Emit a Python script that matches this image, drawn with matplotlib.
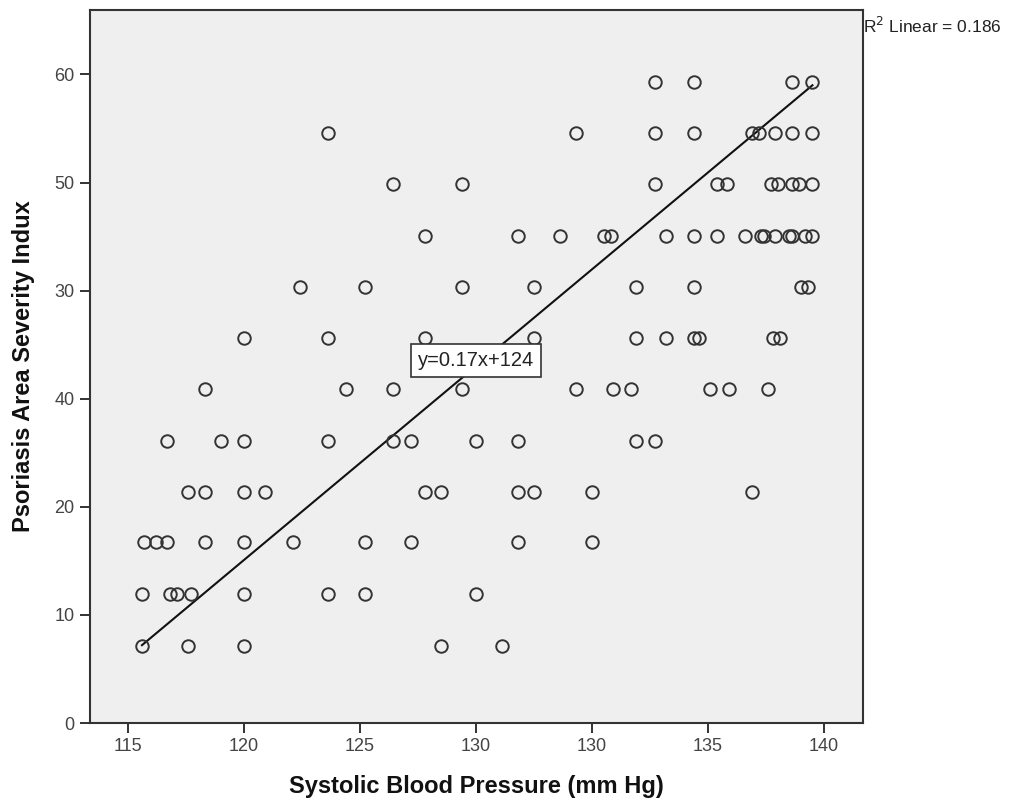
import numpy as np
import matplotlib
matplotlib.use("Agg")
import matplotlib.pyplot as plt

plt.rcParams['font.family'] = ['Liberation Sans', 'DejaVu Sans']

# Points, one list per row of y.
# x is in the axis' own (evenly spaced) units; the tick labels below are what the
# original chart prints at those positions.
rows = {
    59.3: [137.7, 139.4, 143.6, 144.5],
    54.6: [123.6, 134.3, 137.7, 139.4, 141.9, 142.2, 142.9, 143.6, 144.5],
    49.9: [126.4, 129.4, 137.7, 140.4, 140.8, 142.7, 143.0, 143.6, 143.9, 144.5],
    45.1: [127.8, 131.8, 133.6, 135.5, 135.8, 138.2, 139.4, 140.4, 141.6, 142.3,
           142.4, 142.9, 143.5, 143.6, 144.2, 144.5],
    40.3: [122.4, 125.2, 129.4, 132.5, 136.9, 139.4, 144.0, 144.3],
    35.6: [120.0, 123.6, 127.8, 132.5, 136.9, 138.2, 139.4, 139.6, 142.8, 143.1],
    30.9: [118.3, 124.4, 126.4, 129.4, 134.3, 135.9, 136.7, 140.1, 140.9, 142.6],
    26.1: [116.7, 119.0, 120.0, 123.6, 126.4, 127.2, 130.0, 131.8, 136.9, 137.7],
    21.4: [117.6, 118.3, 120.0, 120.9, 127.8, 128.5, 131.8, 132.5, 135.0, 141.9],
    16.7: [115.7, 116.2, 116.7, 118.3, 120.0, 122.1, 125.2, 127.2, 131.8, 135.0],
    11.9: [115.6, 116.8, 117.1, 117.7, 120.0, 123.6, 125.2, 130.0],
    7.1: [115.6, 117.6, 120.0, 128.5, 131.1],
}
sbp = np.array([x for y, xs in rows.items() for x in xs])
pasi = np.array([y for y, xs in rows.items() for x in xs])

# fit line as drawn (endpoints)
fit_x = [115.6, 144.5]
fit_y = [7.2, 59.0]

xtick_pos = [115, 120, 125, 130, 135, 140, 145]
xtick_labels = ['115', '120', '125', '130', '130', '135', '140']
ytick_pos = [0, 10, 20, 30, 40, 50, 60]
ytick_labels = ['0', '10', '20', '40', '30', '50', '60']

fig = plt.figure(figsize=(10.09, 8.02), dpi=100)
ax = fig.add_axes([0.0892, 0.0985, 0.7661, 0.889])
ax.set_facecolor('#efefef')

ax.plot(fit_x, fit_y, color='#111111', lw=1.5, zorder=2)
ax.plot(sbp, pasi, 'o', ms=9, mfc='none', mec='#333333', mew=1.4, zorder=3)

ax.set_xlim(113.36, 146.68)
ax.set_ylim(0, 65.96)
ax.set_xticks(xtick_pos)
ax.set_xticklabels(xtick_labels)
ax.set_yticks(ytick_pos)
ax.set_yticklabels(ytick_labels)
ax.tick_params(direction='out', length=7, width=1.4, color='#333333',
               labelsize=13, labelcolor='#444444', pad=4)

for s in ax.spines.values():
    s.set_color('#333333')
    s.set_linewidth(1.5)

ax.set_xlabel('Systolic Blood Pressure (mm Hg)', fontsize=17, fontweight='bold',
              color='#111111', labelpad=14)
ax.set_ylabel('Psoriasis Area Severity Indux', fontsize=17, fontweight='bold',
              color='#111111', labelpad=14)

ax.text(130.0, 33.5, 'y=0.17x+124', fontsize=14.5, ha='center', va='center',
        color='#222222', zorder=4,
        bbox=dict(boxstyle='square,pad=0.35', fc='white', ec='#333333', lw=1.2))

fig.text(0.855, 0.968, 'R$^2$ Linear = 0.186', fontsize=12.5, ha='left', va='center',
         color='#222222')

fig.savefig('out.png', dpi=100)
